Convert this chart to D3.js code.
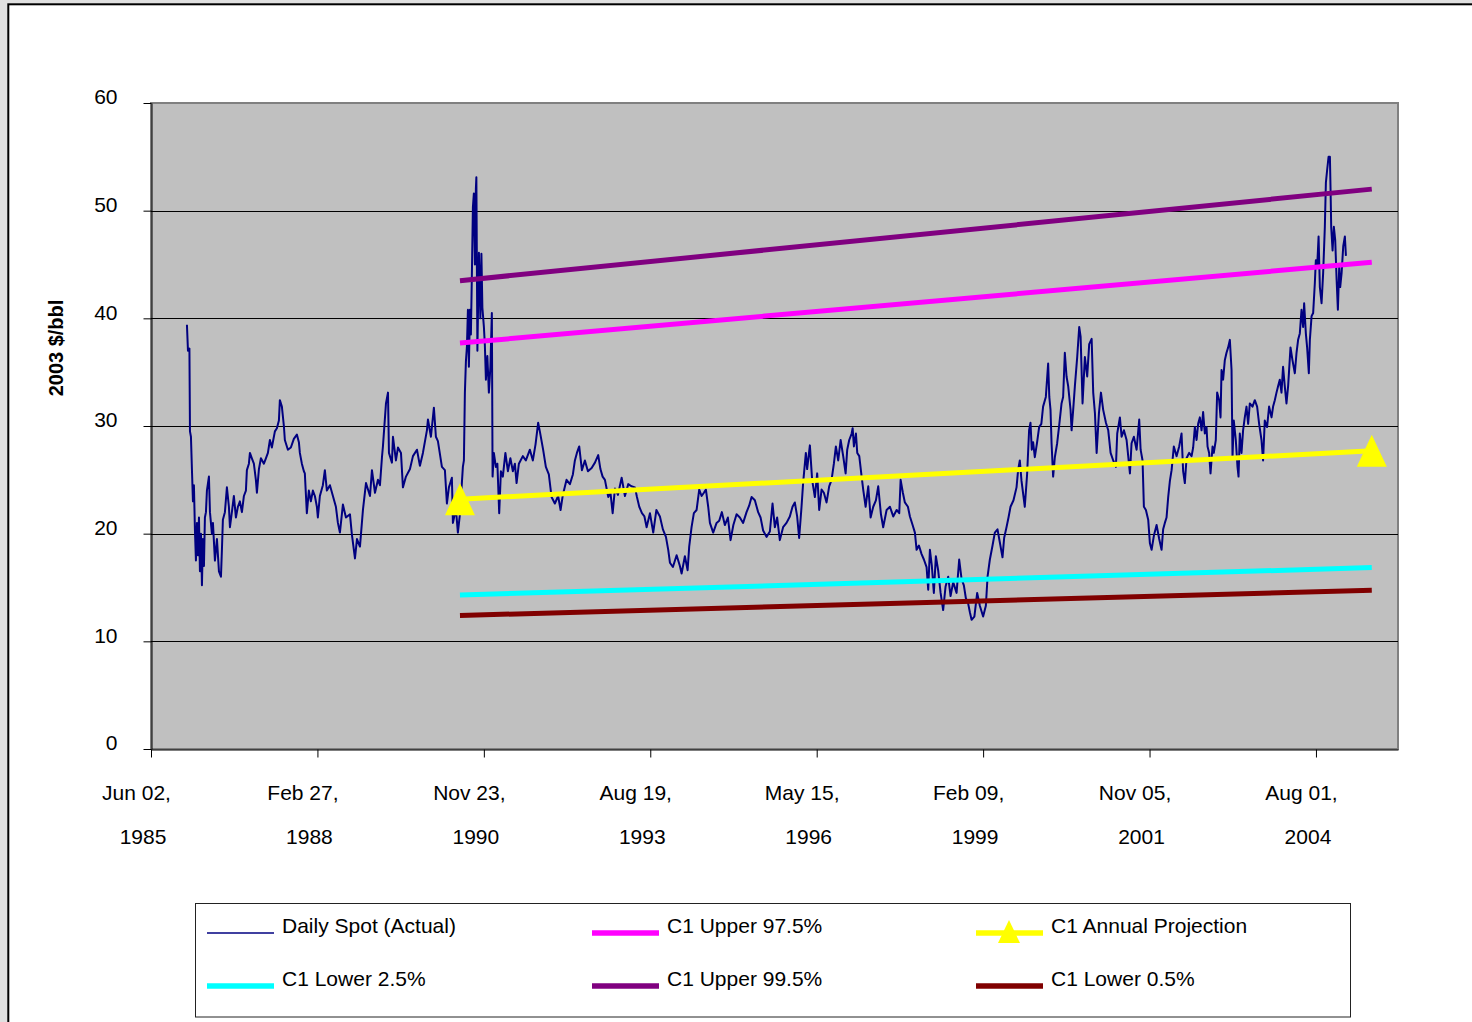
<!DOCTYPE html>
<html><head><meta charset="utf-8">
<script src="https://cdn.jsdelivr.net/npm/d3@7"></script>
<style>
body{margin:0;background:#e0e0e0;}
svg{display:block;font-family:Arial,"Liberation Sans",sans-serif;}
</style>
</head><body>
<svg id="chart" width="1472" height="1022"></svg>
<script>
// ---- DATA ----
// Daily spot (actual), 2003 $/bbl, [decimal year, value]
const spotSeries = [
[1986.008,39.4],[1986.025,37.0],[1986.049,37.2],[1986.058,29.5],[1986.074,29.0],[1986.090,26.0],[1986.107,23.0],[1986.123,24.5],[1986.140,20.3],[1986.156,17.5],[1986.173,21.0],[1986.189,18.0],[1986.206,21.5],[1986.222,16.5],[1986.239,20.0],[1986.255,15.2],[1986.271,19.5],[1986.288,17.0],[1986.304,21.5],[1986.321,22.0],[1986.337,24.0],[1986.370,25.3],[1986.387,22.0],[1986.419,20.0],[1986.436,21.0],[1986.469,17.5],[1986.502,19.5],[1986.535,16.5],[1986.568,16.0],[1986.584,18.5],[1986.600,21.3],[1986.633,22.0],[1986.666,24.3],[1986.699,22.5],[1986.716,20.6],[1986.748,22.0],[1986.781,23.5],[1986.814,21.5],[1986.847,22.5],[1986.880,23.0],[1986.913,22.0],[1986.946,23.5],[1986.979,24.0],[1986.995,25.9],[1987.028,26.5],[1987.045,27.5],[1987.077,27.0],[1987.110,26.5],[1987.143,25.0],[1987.160,23.8],[1987.193,26.0],[1987.226,27.0],[1987.275,26.5],[1987.308,27.0],[1987.341,27.5],[1987.374,28.7],[1987.406,28.0],[1987.456,29.5],[1987.489,29.8],[1987.522,30.5],[1987.538,32.4],[1987.571,31.8],[1987.604,30.0],[1987.620,28.7],[1987.670,27.8],[1987.719,28.0],[1987.768,28.8],[1987.818,29.2],[1987.851,28.5],[1987.867,27.5],[1987.900,26.5],[1987.933,25.8],[1987.949,25.6],[1987.982,21.9],[1988.015,24.0],[1988.048,23.0],[1988.081,24.0],[1988.114,23.5],[1988.147,22.5],[1988.163,21.5],
[1988.196,23.5],[1988.245,24.5],[1988.278,25.9],[1988.311,24.0],[1988.361,24.5],[1988.410,23.5],[1988.459,22.5],[1988.492,21.0],[1988.525,20.1],[1988.574,22.7],[1988.624,21.5],[1988.690,21.8],[1988.722,19.9],[1988.772,17.7],[1988.805,19.5],[1988.854,18.8],[1988.903,22.2],[1988.953,24.7],[1989.019,23.5],[1989.051,25.9],[1989.101,23.8],[1989.150,25.0],[1989.183,24.5],[1989.216,27.1],[1989.232,28.1],[1989.282,32.1],[1989.315,33.1],[1989.331,27.5],[1989.380,26.6],[1989.397,29.0],[1989.446,26.8],[1989.479,28.0],[1989.529,27.5],[1989.561,24.3],[1989.611,25.3],[1989.677,26.0],[1989.726,27.2],[1989.792,27.8],[1989.841,26.3],[1989.890,27.5],[1989.956,29.6],[1989.973,30.6],[1990.022,29.0],[1990.071,31.7],[1990.104,29.0],[1990.137,28.6],[1990.203,26.2],[1990.252,25.9],[1990.285,22.8],[1990.318,24.3],[1990.367,25.2],[1990.384,21.0],[1990.433,22.3],[1990.466,20.1],[1990.499,21.8],[1990.548,26.2],[1990.565,26.8],[1990.581,33.1],[1990.598,36.0],
[1990.614,37.3],[1990.631,40.8],[1990.647,35.5],[1990.664,40.8],[1990.680,38.5],[1990.696,44.0],[1990.713,50.3],[1990.729,51.6],[1990.746,45.0],[1990.762,52.0],[1990.770,53.1],[1990.787,37.0],[1990.812,46.1],[1990.836,40.0],[1990.853,46.0],[1990.869,41.0],[1990.894,39.2],[1990.910,37.5],[1990.927,34.3],[1990.951,36.5],[1990.976,33.1],[1991.001,35.5],[1991.025,40.5],[1991.037,25.3],[1991.058,27.5],[1991.091,26.2],[1991.116,26.5],[1991.146,21.9],[1991.174,25.8],[1991.206,25.3],[1991.248,27.5],[1991.289,25.8],[1991.330,27.0],[1991.371,25.8],[1991.404,26.5],[1991.432,24.7],[1991.470,26.5],[1991.535,27.2],[1991.585,26.8],[1991.651,27.8],[1991.700,26.8],[1991.744,28.3],[1991.787,30.3],[1991.815,29.5],[1991.869,27.8],[1991.914,26.2],[1991.963,25.5],[1992.008,23.4],
[1992.062,22.8],[1992.116,23.5],[1992.156,22.2],[1992.193,23.6],[1992.254,25.0],[1992.309,24.6],[1992.358,25.5],[1992.391,26.8],[1992.424,27.5],[1992.462,28.1],[1992.506,25.9],[1992.555,26.8],[1992.605,25.8],[1992.666,26.1],[1992.720,26.6],[1992.774,27.3],[1992.810,26.0],[1992.846,25.3],[1992.884,25.0],[1992.939,23.4],[1992.975,23.8],[1993.011,21.9],[1993.049,24.2],[1993.098,23.6],[1993.159,25.2],[1993.213,23.5],[1993.268,24.6],[1993.320,24.4],[1993.378,24.3],[1993.411,23.4],[1993.449,22.5],[1993.493,21.9],[1993.534,21.6],[1993.570,20.6],[1993.625,21.9],[1993.679,20.1],[1993.731,22.2],[1993.789,21.6],[1993.838,20.4],[1993.888,19.7],[1993.926,18.5],[1993.954,17.3],[1994.003,16.9],[1994.064,18.0],[1994.118,17.0],[1994.146,16.3],[1994.200,17.9],[1994.245,16.6],[1994.271,18.8],[1994.310,20.6],[1994.348,21.9],[1994.393,22.2],[1994.436,24.1],[1994.475,23.5],[1994.513,23.8],[1994.546,24.1],[1994.584,22.5],[1994.612,21.0],[1994.666,20.1],[1994.722,21.0],[1994.765,21.2],
[1994.809,22.0],[1994.858,20.8],[1994.908,21.5],[1994.952,19.4],[1994.998,20.8],[1995.051,21.8],[1995.105,21.5],[1995.159,21.0],[1995.215,22.0],[1995.258,22.6],[1995.298,23.4],[1995.352,23.1],[1995.406,22.0],[1995.446,21.5],[1995.488,20.3],[1995.544,19.7],[1995.599,20.2],[1995.643,22.8],[1995.681,20.6],[1995.719,21.5],[1995.763,19.4],[1995.817,20.6],[1995.873,21.0],[1995.928,21.6],[1995.972,22.5],[1996.010,22.9],[1996.048,21.6],[1996.081,19.6],[1996.120,22.5],[1996.146,24.7],[1996.191,27.5],[1996.212,26.0],[1996.257,28.2],[1996.294,25.0],[1996.339,23.4],[1996.377,25.6],[1996.410,22.2],[1996.449,24.1],[1996.487,23.8],[1996.531,22.9],[1996.574,24.4],[1996.613,25.0],[1996.651,26.5],[1996.684,28.1],[1996.722,26.8],[1996.762,28.7],[1996.804,27.2],[1996.844,25.6],[1996.870,27.8],[1996.903,28.7],[1996.943,29.3],[1996.959,29.8],[1996.980,28.1],[1997.013,29.3],[1997.035,27.5],[1997.068,27.2],[1997.107,25.3],[1997.133,24.1],[1997.173,22.5],[1997.216,24.4],[1997.255,21.5],[1997.298,22.5],[1997.342,23.1],[1997.380,24.4],
[1997.425,21.8],[1997.462,20.6],[1997.518,22.2],[1997.573,22.5],[1997.627,21.6],[1997.683,22.2],[1997.726,21.9],[1997.749,25.0],[1997.786,23.8],[1997.819,22.9],[1997.869,22.5],[1997.902,21.6],[1997.946,20.8],[1997.984,20.1],[1998.012,18.5],[1998.050,18.9],[1998.094,18.1],[1998.132,17.6],[1998.176,16.9],[1998.203,14.8],[1998.231,18.5],[1998.263,17.0],[1998.296,14.5],[1998.329,17.9],[1998.367,16.6],[1998.407,14.5],[1998.449,12.9],[1998.489,15.1],[1998.532,16.0],[1998.571,14.2],[1998.614,15.5],[1998.670,14.5],[1998.713,17.6],[1998.752,15.8],[1998.790,15.2],[1998.823,14.0],[1998.861,13.5],[1998.889,12.7],[1998.917,12.0],[1998.963,12.3],[1999.009,14.5],[1999.053,13.3],[1999.107,12.3],[1999.152,13.3],[1999.180,16.0],[1999.218,17.6],[1999.262,18.9],[1999.300,20.1],[1999.344,20.4],[1999.382,19.2],[1999.426,17.8],[1999.453,19.6],[1999.492,20.6],[1999.525,21.5],[1999.558,22.5],[1999.607,23.1],[1999.657,24.3],[1999.683,25.9],[1999.711,26.8],[1999.739,24.9],
[1999.793,22.5],[1999.831,25.5],[1999.864,29.6],[1999.887,30.3],[1999.908,27.8],[1999.930,28.5],[1999.958,27.1],[1999.996,28.5],[2000.029,29.9],[2000.065,30.2],[2000.094,31.8],[2000.139,32.7],[2000.177,35.8],[2000.196,32.7],[2000.216,31.5],[2000.233,28.4],[2000.259,25.3],[2000.287,27.1],[2000.325,28.4],[2000.361,30.2],[2000.397,32.1],[2000.423,32.7],[2000.451,36.8],[2000.479,34.6],[2000.506,33.7],[2000.545,31.5],[2000.562,29.6],[2000.588,31.5],[2000.616,33.7],[2000.654,36.4],[2000.687,39.2],[2000.710,38.3],[2000.742,32.1],[2000.780,36.4],[2000.818,34.6],[2000.851,37.6],[2000.891,38.1],[2000.917,33.1],[2000.945,31.2],[2000.973,27.5],[2001.011,31.2],[2001.044,33.1],[2001.081,31.5],[2001.126,30.3],[2001.164,29.6],[2001.203,27.5],[2001.246,26.8],[2001.290,26.2],[2001.312,29.3],[2001.356,30.8],[2001.384,29.0],[2001.422,29.6],[2001.466,28.7],[2001.493,27.2],[2001.521,25.6],[2001.548,28.4],[2001.586,29.0],[2001.631,27.8],[2001.674,30.6],[2001.697,27.8],[2001.729,26.8],[2001.751,22.5],[2001.784,22.2],[2001.822,21.3],[2001.850,19.1],[2001.878,18.5],[2001.915,19.8],[2001.960,20.8],[2002.003,19.5],[2002.042,18.5],[2002.068,20.4],[2002.096,21.0],[2002.124,21.5],[2002.151,23.4],[2002.179,24.9],[2002.207,25.9],[2002.244,28.1],[2002.289,27.2],[2002.332,28.1],
[2002.371,29.3],[2002.397,25.8],[2002.425,24.7],[2002.453,27.0],[2002.496,27.5],[2002.536,27.2],[2002.562,28.0],[2002.590,29.9],[2002.618,28.7],[2002.644,30.2],[2002.672,30.8],[2002.700,29.6],[2002.726,31.3],[2002.754,29.3],[2002.782,29.9],[2002.799,28.1],[2002.825,27.5],[2002.848,25.6],[2002.881,28.1],[2002.902,27.5],[2002.935,28.7],[2002.957,33.1],[2002.990,32.4],[2003.013,30.8],[2003.029,35.2],[2003.055,34.3],[2003.083,36.1],[2003.111,36.8],[2003.138,37.3],[2003.166,38.0],[2003.194,35.2],[2003.210,27.1],[2003.231,30.5],[2003.264,28.7],[2003.292,26.2],[2003.309,25.3],[2003.330,29.3],[2003.358,27.5],[2003.384,29.6],[2003.412,30.8],[2003.440,31.8],[2003.467,30.2],[2003.495,32.1],[2003.539,31.8],[2003.577,32.4],[2003.615,31.8],[2003.648,30.2],[2003.687,28.7],[2003.713,26.8],[2003.741,30.5],[2003.779,29.9],[2003.812,31.8],[2003.852,30.8],[2003.878,31.8],[2003.906,32.4],[2003.934,33.1],[2003.960,33.7],[2003.988,34.3],[2004.016,33.1],[2004.042,35.5],[2004.070,33.7],[2004.098,32.1],[2004.125,33.7],[2004.164,37.3],[2004.197,36.1],[2004.235,34.9],[2004.263,36.8],[2004.289,38.0],[2004.317,38.6],[2004.345,40.8],[2004.371,39.2],[2004.388,41.4],[2004.416,38.6],[2004.437,37.3],[2004.465,34.9],[2004.482,38.0],[2004.510,40.2],[2004.536,40.5],[2004.564,43.3],[2004.580,45.4],[2004.602,44.8],[2004.625,47.6],[2004.646,42.9],[2004.674,41.4],[2004.700,44.2],[2004.728,48.5],[2004.745,52.6],[2004.766,53.8],[2004.789,55.0],[2004.811,55.0],[2004.822,51.9],[2004.832,48.5],[2004.855,46.3],[2004.876,48.5],[2004.898,47.3],[2004.921,43.6],[2004.942,40.8],[2004.964,44.8],[2004.980,42.9],[2005.003,44.2],[2005.030,46.7],[2005.057,47.6],[2005.074,45.8]
];

// Projection band series (decimal years, 2003 $/bbl)
const bandYears      = [1990.5, 2005.5];
const upper975       = [37.7, 45.2];
const projection     = [23.2, 27.7];
const lower25        = [14.3, 16.85];
const upper995       = [43.5, 52.0];
const lower05        = [12.4, 14.75];

// Axes
const yTickValues = [0, 10, 20, 30, 40, 50, 60];
const xStartDate = "1985-06-02";
const xTickStepDays = 1000;
const xTickCount = 8;
const xSpanDays = 7493;
const yTitle = "2003 $/bbl";

// Legend (Excel order, row by row)
const legendNames = ["Daily Spot (Actual)", "C1 Upper 97.5%", "C1 Annual Projection",
                     "C1 Lower 2.5%", "C1 Upper 99.5%", "C1 Lower 0.5%"];

// ---- STYLES ----
const colors = {
  spot: "#000080", u975: "#FF00FF", proj: "#FFFF00",
  l25: "#00FFFF", u995: "#800080", l05: "#800000"
};

// ---- DRAW ----
function yearToDate(d) {
  const y = Math.floor(d);
  const a = Date.UTC(y, 0, 1), b = Date.UTC(y + 1, 0, 1);
  return new Date(a + (d - y) * (b - a));
}

const svg = d3.select("#chart");
const W = 1472, H = 1022;
const plot = {left: 151, right: 1398, top: 103, bottom: 749};

// outer frame
svg.append("rect").attr("x", 0).attr("y", 0).attr("width", W).attr("height", H).attr("fill", "#e0e0e0");
svg.append("rect").attr("x", 8.3).attr("y", 4.3).attr("width", W + 20).attr("height", H + 20)
  .attr("fill", "#ffffff").attr("stroke", "#000").attr("stroke-width", 2);

const start = new Date(xStartDate + "T00:00:00Z");
const x = d3.scaleUtc()
  .domain([start, d3.utcDay.offset(start, xSpanDays)])
  .range([plot.left, plot.right]);
const y = d3.scaleLinear().domain([0, 60]).range([plot.bottom, plot.top]);

// plot area
svg.append("rect")
  .attr("x", plot.left).attr("y", plot.top)
  .attr("width", plot.right - plot.left).attr("height", plot.bottom - plot.top)
  .attr("fill", "#C0C0C0").attr("stroke", "#808080").attr("stroke-width", 2);

// gridlines
svg.append("g").selectAll("line")
  .data(yTickValues.filter(v => v > 0 && v < 60))
  .join("line")
  .attr("x1", plot.left).attr("x2", plot.right)
  .attr("y1", d => Math.round(y(d)) + 0.5).attr("y2", d => Math.round(y(d)) + 0.5)
  .attr("stroke", "#000").attr("stroke-width", 1);

// Y axis
const yAxis = d3.axisLeft(y).tickValues(yTickValues).tickSize(8).tickSizeOuter(0).tickPadding(26).tickFormat(d3.format("d"));
const gy = svg.append("g").attr("transform", `translate(${plot.left + 0.5},0)`).call(yAxis);
gy.select(".domain").attr("stroke", "#000");
gy.selectAll(".tick line").attr("stroke", "#000");
gy.selectAll(".tick text")
  .attr("font-size", 21).attr("font-family", "Arial, 'Liberation Sans', sans-serif")
  .attr("fill", "#000").attr("dy", "0.32em").attr("y", -6);

// X axis
const xTicks = d3.range(xTickCount).map(i => d3.utcDay.offset(start, i * xTickStepDays));
const xAxis = d3.axisBottom(x).tickValues(xTicks).tickSize(8).tickSizeOuter(0).tickFormat("");
const gx = svg.append("g").attr("transform", `translate(0,${plot.bottom + 0.5})`).call(xAxis);
gx.select(".domain").attr("stroke", "#000");
gx.selectAll(".tick line").attr("stroke", "#000");
const fmtMD = d3.utcFormat("%b %d,"), fmtY = d3.utcFormat("%Y");
gx.selectAll(".tick").each(function(d) {
  const g = d3.select(this);
  g.append("text").attr("x", -15).attr("y", 50).attr("text-anchor", "middle")
    .attr("font-size", 21).attr("fill", "#000").text(fmtMD(d));
  g.append("text").attr("x", -8.5).attr("y", 94).attr("text-anchor", "middle")
    .attr("font-size", 21).attr("fill", "#000").text(fmtY(d));
});

// Y title
svg.append("text")
  .attr("transform", `translate(63,348) rotate(-90)`)
  .attr("text-anchor", "middle")
  .attr("font-size", 20).attr("font-weight", "bold").attr("fill", "#000")
  .text(yTitle);

// series
const line = d3.line().x(d => x(yearToDate(d[0]))).y(d => y(d[1]));
svg.append("path").datum(spotSeries)
  .attr("d", line).attr("fill", "none")
  .attr("stroke", colors.spot).attr("stroke-width", 2).attr("stroke-linejoin", "round");

const bands = [
  {vals: upper975, color: colors.u975},
  {vals: projection, color: colors.proj, marker: true},
  {vals: lower25, color: colors.l25},
  {vals: upper995, color: colors.u995},
  {vals: lower05, color: colors.l05}
];
const triPath = (w, h) => `M0,${-h/2}L${w/2},${h/2}L${-w/2},${h/2}Z`;
bands.forEach(b => {
  const pts = bandYears.map((yr, i) => [yr, b.vals[i]]);
  svg.append("path").datum(pts).attr("d", line).attr("fill", "none")
    .attr("stroke", b.color).attr("stroke-width", 5);
  if (b.marker) {
    svg.append("g").selectAll("path").data(pts).join("path")
      .attr("transform", d => `translate(${x(yearToDate(d[0]))},${y(d[1])})`)
      .attr("d", triPath(30, 32)).attr("fill", b.color);
  }
});

// legend
svg.append("rect").attr("x", 195.5).attr("y", 903.5).attr("width", 1155).attr("height", 113.5)
  .attr("fill", "#fff").attr("stroke", "#222").attr("stroke-width", 1);
const legendStyles = [
  {color: colors.spot, w: 1.5}, {color: colors.u975, w: 5.5}, {color: colors.proj, w: 5.5, marker: true},
  {color: colors.l25, w: 5.5}, {color: colors.u995, w: 5.5}, {color: colors.l05, w: 5.5}
];
const colX = [207, 592, 976];
const rowY = [933, 986];
legendNames.forEach((name, i) => {
  const cx = colX[i % 3], cy = rowY[Math.floor(i / 3)];
  const st = legendStyles[i];
  const g = svg.append("g");
  g.append("line").attr("x1", cx).attr("x2", cx + 67).attr("y1", cy).attr("y2", cy)
    .attr("stroke", st.color).attr("stroke-width", st.w);
  if (st.marker) {
    g.append("path").attr("transform", `translate(${cx + 33},${cy - 1.5})`)
      .attr("d", triPath(22, 23)).attr("fill", st.color);
  }
  g.append("text").attr("x", cx + 75).attr("y", cy - 8).attr("dominant-baseline", "central")
    .attr("font-size", 21).attr("fill", "#000").text(name);
});
</script>
</body></html>
